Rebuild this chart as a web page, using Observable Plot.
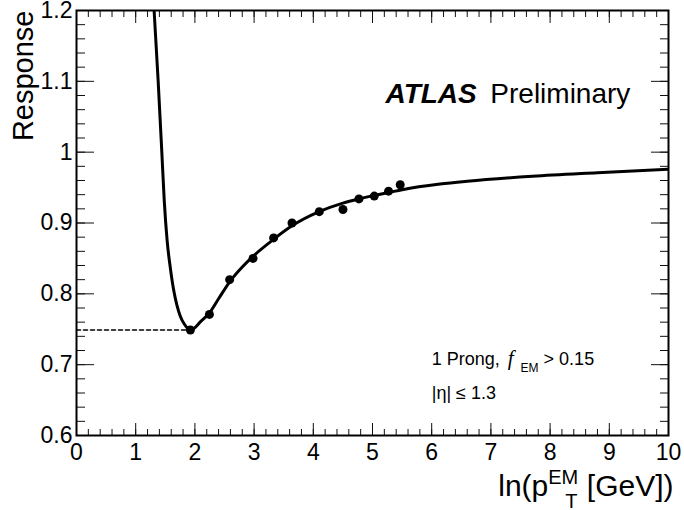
<!DOCTYPE html>
<html><head><meta charset="utf-8">
<script src="https://cdn.jsdelivr.net/npm/d3@7"></script>
<script src="https://cdn.jsdelivr.net/npm/@observablehq/plot@0.6"></script>
<style>body{margin:0;background:#fff} svg{display:block}</style>
</head><body><div id="chart"></div>
<script>
// Measured points (ln pT, response)
const pointX = [1.924, 2.245, 2.587, 2.982, 3.330, 3.640, 4.101, 4.501, 4.771, 5.030, 5.271, 5.468];
const pointY = [0.749, 0.771, 0.820, 0.850, 0.879, 0.900, 0.916, 0.919, 0.934, 0.938, 0.945, 0.954];
// Fit curve
const fitX = [1.311, 1.379, 1.440, 1.482, 1.531, 1.586, 1.642, 1.696, 1.755, 1.823, 1.882, 1.930,
              2.100, 2.245, 2.400, 2.587, 2.800, 2.982, 3.330, 3.640, 4.100, 4.500, 4.770, 5.030, 5.270,
              5.500, 6.140, 6.600, 7.700, 8.800, 10.00];
const fitY = [1.200, 1.101, 1.002, 0.932, 0.875, 0.836, 0.805, 0.784, 0.768, 0.757, 0.751, 0.749,
              0.761, 0.773, 0.793, 0.817, 0.838, 0.853, 0.877, 0.896, 0.916, 0.928, 0.934, 0.939, 0.943,
              0.947, 0.955, 0.959, 0.966, 0.971, 0.976];
// Dashed reference at the minimum
const minX = [0, 1.924];
const minY = [0.749, 0.749];
// Axes
const xMajor = [0, 1, 2, 3, 4, 5, 6, 7, 8, 9, 10];
const yMajor = [0.6, 0.7, 0.8, 0.9, 1.0, 1.1, 1.2];
const xMinor = d3.range(0, 51).map(i => i * 0.2);
const yMinor = d3.range(0, 31).map(i => 0.6 + i * 0.02);
const xLabel = "ln(pT EM [GeV])";
const yLabel = "Response";
const annot1 = "1 Prong, f EM > 0.15";
const annot2 = "|η| ≤ 1.3";

const font = "'Liberation Sans', Arial, Helvetica, sans-serif";
const tk = {tickFormat: () => "", label: null, stroke: "#111", strokeWidth: 1};

const svg = Plot.plot({
  width: 684, height: 510,
  marginLeft: 76, marginRight: 16, marginTop: 10, marginBottom: 75,
  style: {fontFamily: font, background: "#fff", color: "#000", overflow: "visible"},
  x: {domain: [0, 10]},
  y: {domain: [0.6, 1.2]},
  marks: [
    Plot.axisX(xMinor, {anchor: "bottom", tickSize: -6, ...tk}),
    Plot.axisX(xMajor, {anchor: "bottom", tickSize: -12, ...tk}),
    Plot.axisX(xMinor, {anchor: "top", tickSize: -6, ...tk}),
    Plot.axisX(xMajor, {anchor: "top", tickSize: -12, ...tk}),
    Plot.axisY(yMinor, {anchor: "left", tickSize: -9, ...tk}),
    Plot.axisY(yMajor, {anchor: "left", tickSize: -18, ...tk}),
    Plot.axisY(yMinor, {anchor: "right", tickSize: -9, ...tk}),
    Plot.axisY(yMajor, {anchor: "right", tickSize: -18, ...tk}),
    Plot.axisX(xMajor, {anchor: "bottom", tickSize: 0, tickPadding: 8, fontSize: 23, tickFormat: d => String(d), label: null}),
    Plot.axisY(yMajor, {anchor: "left", tickSize: 0, tickPadding: 4, fontSize: 23, tickFormat: d => String(+d.toFixed(1)), label: null}),
    Plot.line(minX.map((x, i) => [x, minY[i]]), {stroke: "#000", strokeWidth: 1.5, strokeDasharray: "4,3"}),
    Plot.line(fitX.map((x, i) => [x, fitY[i]]), {stroke: "#000", strokeWidth: 3, curve: "monotone-x", clip: true}),
    Plot.dot(pointX.map((x, i) => [x, pointY[i]]), {r: 4.5, fill: "#000", stroke: null}),
    Plot.frame({stroke: "#000", strokeWidth: 2}),
    Plot.text(["ATLAS"], {x: 5.22, y: 1.07, textAnchor: "start", lineAnchor: "bottom", fontSize: 28, fontWeight: "bold", fontStyle: "italic"}),
    Plot.text(["Preliminary"], {x: 6.99, y: 1.07, textAnchor: "start", lineAnchor: "bottom", fontSize: 28}),
    Plot.text([annot1], {x: 6.0, y: 0.699, textAnchor: "start", lineAnchor: "bottom", fontSize: 18}),
    Plot.text([annot2], {x: 6.0, y: 0.652, textAnchor: "start", lineAnchor: "bottom", fontSize: 18}),
    Plot.text([yLabel], {frameAnchor: "top-left", rotate: -90, textAnchor: "end", lineAnchor: "bottom", dx: -44, fontSize: 29}),
    Plot.text([xLabel], {frameAnchor: "bottom-right", textAnchor: "end", lineAnchor: "bottom", dx: 5, dy: 60, fontSize: 30})
  ]
});

const NS = "http://www.w3.org/2000/svg";
function rich(content, parts) {
  const t = Array.from(svg.querySelectorAll("text")).find(e => e.textContent === content);
  if (!t) return;
  while (t.firstChild) t.removeChild(t.firstChild);
  for (const [txt, attrs] of parts) {
    const s = document.createElementNS(NS, "tspan");
    s.textContent = txt;
    for (const k in attrs) s.setAttribute(k, attrs[k]);
    t.appendChild(s);
  }
}
rich(xLabel, [
  ["ln(p", {}],
  ["EM", {"font-size": 20, dy: -12}],
  ["T", {"font-size": 20, dx: -13, dy: 24}],
  [" [GeV])", {dx: 1, dy: -12}]
]);
rich(annot1, [
  ["1 Prong,", {}],
  ["f", {"font-family": "'Liberation Serif', 'DejaVu Serif', serif", "font-style": "italic", "font-size": 21, dx: 8}],
  ["EM", {"font-size": 12, dx: 7, dy: 7}],
  [" > 0.15", {dy: -7}]
]);
document.getElementById("chart").appendChild(svg);
</script>
</body></html>
